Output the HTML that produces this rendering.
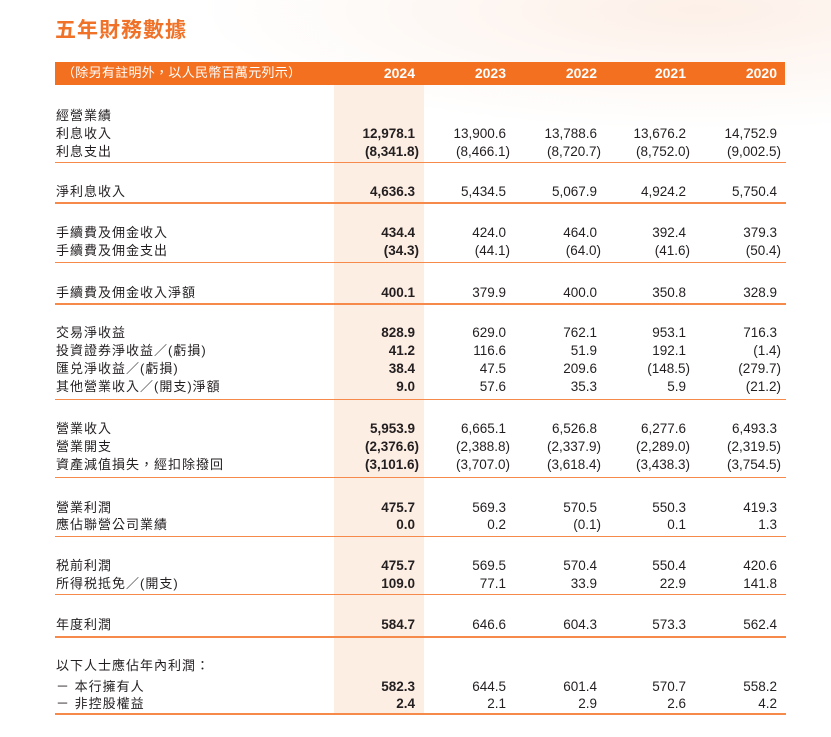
<!DOCTYPE html>
<html><head><meta charset="utf-8"><style>
html,body{margin:0;padding:0;}
body{width:831px;height:737px;position:relative;overflow:hidden;background:#fff;font-family:"Liberation Sans","Noto Sans CJK TC",sans-serif;color:#231f20;}
.bg{position:absolute;left:0;top:0;width:831px;height:737px;background:radial-gradient(ellipse 500px 120px at 700px 10px,#fdf0e8 0%,rgba(255,255,255,0) 100%);}
.title{position:absolute;left:55px;top:14px;font-size:21px;font-weight:bold;color:#f07228;letter-spacing:1px;}
.bar{position:absolute;left:55px;top:62px;width:730px;height:23px;background:#f37021;}
.band{position:absolute;left:334px;top:85px;width:90px;height:628px;background:#fdeee4;}
.t{position:absolute;font-size:13.5px;line-height:16px;white-space:nowrap;}
.lab{left:56px;font-size:13px;letter-spacing:1px;}
.n{text-align:right;width:100px;}
.b{font-weight:bold;}
.p{margin-right:-4px;}
.h{color:#fff;font-weight:bold;font-size:14px;}
.ln{position:absolute;left:55px;width:731px;background:#f58a4b;}
</style></head><body>
<div class="bg"></div>
<div class="title">五年財務數據</div>
<div class="bar"></div>
<div class="band"></div>
<div class="t h" style="left:62px;top:65px;font-weight:normal;font-size:13px;letter-spacing:0.3px;">（除另有註明外，以人民幣百萬元列示）</div>
<div class="t h n" style="left:315px;top:65px;">2024</div>
<div class="t h n" style="left:406px;top:65px;">2023</div>
<div class="t h n" style="left:497px;top:65px;">2022</div>
<div class="t h n" style="left:586px;top:65px;">2021</div>
<div class="t h n" style="left:677px;top:65px;">2020</div>
<div id="rows"></div>
<script>
var rows=[
[116,"經營業績",[]],
[134,"利息收入",["12,978.1","13,900.6","13,788.6","13,676.2","14,752.9"]],
[152,"利息支出",["(8,341.8)","(8,466.1)","(8,720.7)","(8,752.0)","(9,002.5)"]],
[192,"淨利息收入",["4,636.3","5,434.5","5,067.9","4,924.2","5,750.4"]],
[233,"手續費及佣金收入",["434.4","424.0","464.0","392.4","379.3"]],
[251,"手續費及佣金支出",["(34.3)","(44.1)","(64.0)","(41.6)","(50.4)"]],
[293,"手續費及佣金收入淨額",["400.1","379.9","400.0","350.8","328.9"]],
[333,"交易淨收益",["828.9","629.0","762.1","953.1","716.3"]],
[351,"投資證券淨收益／(虧損)",["41.2","116.6","51.9","192.1","(1.4)"]],
[369,"匯兑淨收益／(虧損)",["38.4","47.5","209.6","(148.5)","(279.7)"]],
[387,"其他營業收入／(開支)淨額",["9.0","57.6","35.3","5.9","(21.2)"]],
[429,"營業收入",["5,953.9","6,665.1","6,526.8","6,277.6","6,493.3"]],
[447,"營業開支",["(2,376.6)","(2,388.8)","(2,337.9)","(2,289.0)","(2,319.5)"]],
[465,"資產減值損失，經扣除撥回",["(3,101.6)","(3,707.0)","(3,618.4)","(3,438.3)","(3,754.5)"]],
[508,"營業利潤",["475.7","569.3","570.5","550.3","419.3"]],
[525,"應佔聯營公司業績",["0.0","0.2","(0.1)","0.1","1.3"]],
[566,"税前利潤",["475.7","569.5","570.4","550.4","420.6"]],
[584,"所得税抵免／(開支)",["109.0","77.1","33.9","22.9","141.8"]],
[625,"年度利潤",["584.7","646.6","604.3","573.3","562.4"]],
[666,"以下人士應佔年內利潤：",[]],
[687,"－ 本行擁有人",["582.3","644.5","601.4","570.7","558.2"]],
[704,"－ 非控股權益",["2.4","2.1","2.9","2.6","4.2"]]
];
var R=[415,506,597,686,777];
var lines=[[162,1],[202,2],[262,1],[303,2],[399,1],[477,1],[536,1],[594,1],[636,2],[713,2]];
var h="";
rows.forEach(function(r){
 var top=r[0]-8;
 h+='<div class="t lab" style="top:'+top+'px">'+r[1]+'</div>';
 r[2].forEach(function(v,i){
  var neg=v[0]=="(";
  h+='<div class="t n'+(i==0?' b':'')+'" style="left:'+(R[i]-100)+'px;top:'+top+'px">'+(neg?'<span class="p">'+v+'</span>':v)+'</div>';
 });
});
lines.forEach(function(l){h+='<div class="ln" style="top:'+l[0]+'px;height:'+l[1]+'px"></div>';});
document.getElementById("rows").innerHTML=h;
</script>
</body></html>
